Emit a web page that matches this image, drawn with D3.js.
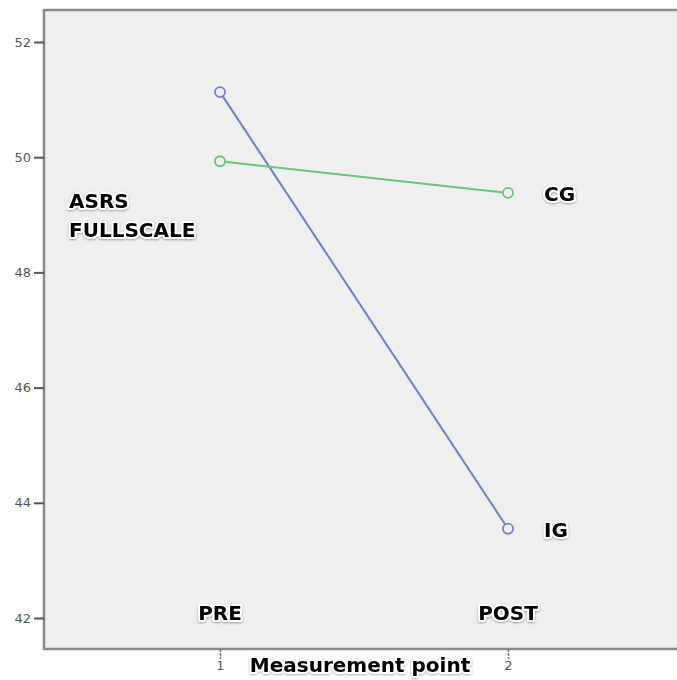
<!DOCTYPE html>
<html>
<head>
<meta charset="utf-8">
<script src="https://cdn.jsdelivr.net/npm/d3@7"></script>
<style>
  body { margin: 0; background: #fff; }
  .lbl { font-family: "DejaVu Sans", sans-serif; font-weight: bold; font-size: 20px; fill: #000;
         stroke: #fff; stroke-width: 4px; paint-order: stroke; stroke-linejoin: round; }
  .tick text { font-family: "DejaVu Sans", sans-serif; fill: #555; }
</style>
</head>
<body>
<svg id="chart" width="677" height="680"></svg>
<script>
var points = [1, 2];
var pointNames = ["PRE", "POST"];
var groups = ["IG", "CG"];
var igValues = [51.13, 43.55];
var cgValues = [49.93, 49.38];
var yTicks = [42, 44, 46, 48, 50, 52];

var svg = d3.select("#chart"),
  margin = { top: 10, right: -10, bottom: 31, left: 44 },
  width = +svg.attr("width") - margin.left - margin.right,
  height = +svg.attr("height") - margin.top - margin.bottom,
  g = svg.append("g").attr("transform", "translate(" + margin.left + "," + margin.top + ")");

var x = d3.scaleLinear().domain([1, 2]).range([176, 464]);
var y = d3.scaleLinear().domain([42, 52]).range([608, 32]);
var color = d3.scaleOrdinal().domain(groups).range(["#6f80c6", "#66c777"]);

// soft shadow behind the bold labels
var defs = svg.append("defs");
defs.append("filter").attr("id", "shadow")
  .attr("x", "-10%").attr("y", "-30%").attr("width", "120%").attr("height", "160%")
  .append("feDropShadow")
  .attr("dx", 0).attr("dy", 1).attr("stdDeviation", 1.2)
  .attr("flood-color", "#000").attr("flood-opacity", 0.35);

// plot background + frame
g.append("rect")
  .attr("width", width)
  .attr("height", height)
  .attr("fill", "#efefef")
  .attr("stroke", "#8a8a8a")
  .attr("stroke-width", 2.5);

// y axis
var yAxis = g.append("g")
  .attr("class", "axis")
  .call(d3.axisLeft(y).tickValues(yTicks).tickSize(10).tickPadding(3));
yAxis.select(".domain").remove();
yAxis.selectAll(".tick line").attr("stroke", "#555").attr("stroke-width", 2);
yAxis.selectAll(".tick text").style("font-size", "13px");

// x axis
var xAxis = g.append("g")
  .attr("class", "axis")
  .attr("transform", "translate(0," + height + ")")
  .call(d3.axisBottom(x).tickValues(points).tickFormat(d3.format("d")).tickSize(10).tickPadding(2));
xAxis.select(".domain").remove();
xAxis.selectAll(".tick line").attr("stroke", "#777").attr("stroke-width", 1.5).attr("stroke-dasharray", "3,1");
xAxis.selectAll(".tick text").style("font-size", "13px");

var series = [
  { key: "IG", values: igValues },
  { key: "CG", values: cgValues }
];

var line = d3.line()
  .x(function(d, i) { return x(points[i]); })
  .y(function(d) { return y(d); });

series.forEach(function(s) {
  g.append("path")
    .attr("d", line(s.values))
    .attr("fill", "none")
    .attr("stroke", color(s.key))
    .attr("stroke-width", 2);
  g.selectAll(".pt-" + s.key)
    .data(s.values)
    .enter().append("circle")
    .attr("cx", function(d, i) { return x(points[i]); })
    .attr("cy", function(d) { return y(d); })
    .attr("r", 5)
    .attr("fill", "#efefef")
    .attr("stroke", color(s.key))
    .attr("stroke-width", 1.8);
  // group label next to last point
  g.append("text")
    .attr("class", "lbl")
    .attr("filter", "url(#shadow)")
    .attr("x", x(points[1]) + 36)
    .attr("y", y(s.values[1]) + 8)
    .text(s.key);
});

// measurement point names
g.selectAll(".ptname")
  .data(pointNames)
  .enter().append("text")
  .attr("class", "lbl")
  .attr("filter", "url(#shadow)")
  .attr("x", function(d, i) { return x(points[i]); })
  .attr("y", y(42) + 2)
  .attr("text-anchor", "middle")
  .text(function(d) { return d; });

// y title inside plot
var yt = g.append("text").attr("class", "lbl").attr("filter", "url(#shadow)")
  .attr("x", 25).attr("y", 198);
yt.append("tspan").attr("x", 25).attr("dy", 0).text("ASRS");
yt.append("tspan").attr("x", 25).attr("dy", 29).text("FULLSCALE");

// x title
svg.append("text")
  .attr("class", "lbl")
  .attr("filter", "url(#shadow)")
  .attr("x", 360)
  .attr("y", 672)
  .attr("text-anchor", "middle")
  .text("Measurement point");
</script>
</body>
</html>
